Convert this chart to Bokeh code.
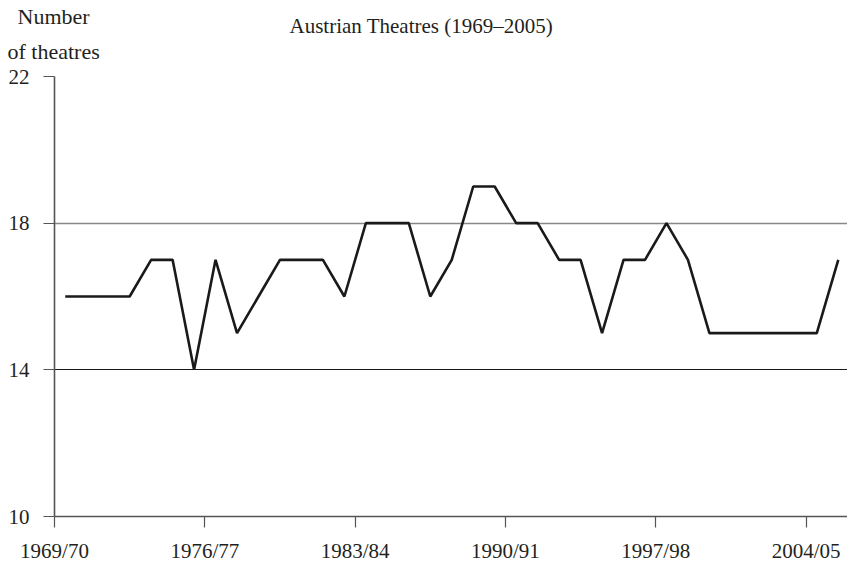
from bokeh.plotting import figure
from bokeh.models import FixedTicker, Grid, Title
from bokeh.embed import file_html
from bokeh.resources import INLINE

seasons = ["1969/70", "1976/77", "1983/84", "1990/91", "1997/98", "2004/05"]
season_index = [0, 7, 14, 21, 28, 35]
theatres = [16, 16, 16, 16, 17, 17, 14, 17, 15, 16,
            17, 17, 17, 16, 18, 18, 18, 16, 17, 19,
            19, 18, 18, 17, 17, 15, 17, 17, 18, 17,
            15, 15, 15, 15, 15, 15, 17]
y_ticks = [10, 14, 18, 22]

FONT = "Liberation Serif"
TXT = "#231f20"

x = [i + 0.5 for i in range(len(theatres))]

p = figure(width=847, height=567, output_backend="svg", toolbar_location=None,
           x_range=(0, 36.93), y_range=(10, 22),
           min_border_left=54, min_border_right=0, min_border_top=76, min_border_bottom=51)
p.outline_line_color = None
p.xgrid.visible = False
p.ygrid.visible = False

p.line(x, theatres, line_color="#1a1a1a", line_width=2.6)

g1 = Grid(dimension=1, ticker=FixedTicker(ticks=[14, 22]), grid_line_color="#1a1a1a", grid_line_width=1.2)
g2 = Grid(dimension=1, ticker=FixedTicker(ticks=[18]), grid_line_color="#888888", grid_line_width=1.6)
p.add_layout(g1)
p.add_layout(g2)

for ax in (p.xaxis[0], p.yaxis[0]):
    ax.axis_line_color = "#555555"
    ax.axis_line_width = 1.6
    ax.major_tick_line_color = "#555555"
    ax.major_tick_line_width = 1.2
    ax.minor_tick_line_color = None
    ax.major_tick_in = 0
    ax.major_tick_out = 11
    ax.major_label_text_font = FONT
    ax.major_label_text_font_size = "21px"
    ax.major_label_text_color = TXT

p.xaxis.ticker = FixedTicker(ticks=season_index)
p.xaxis.major_label_overrides = {i: s for i, s in zip(season_index, seasons)}
p.xaxis.major_label_standoff = 11
p.yaxis.ticker = FixedTicker(ticks=y_ticks)
p.yaxis.major_label_standoff = 14

def title(text, size, offset, standoff):
    return Title(text=text, align="left", offset=offset, standoff=standoff,
                 vertical_align="bottom", text_font=FONT, text_font_size=size,
                 text_font_style="normal", text_color=TXT)

p.title.visible = False
p.add_layout(title("of theatres", "22px", -47, 25), "above")
p.add_layout(title("Austrian Theatres (1969–2005)", "21px", 235, -26), "above")
p.add_layout(title("Number", "22px", -37, -9), "above")

open("out.html", "w").write(file_html(p, INLINE))
